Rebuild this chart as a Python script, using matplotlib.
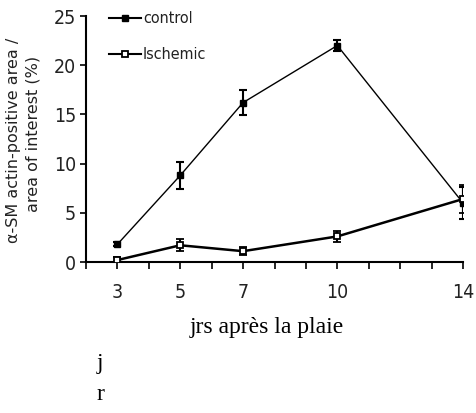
import numpy as np
import matplotlib
matplotlib.use('Agg')
import matplotlib.pyplot as plt
from matplotlib.ticker import MultipleLocator, FixedLocator
from matplotlib.lines import Line2D

# donnees
jours = [3, 5, 7, 10, 14]
control = [1.8, 8.8, 16.2, 22.0, 6.0]
control_err = [0.2, 1.4, 1.3, 0.6, 1.6]
ischemic = [0.2, 1.7, 1.1, 2.6, 6.4]
ischemic_err = [0.3, 0.6, 0.4, 0.6, 1.4]
xticks_lab = [3, 5, 7, 10, 14]

narrow = ['DejaVu Sans']
serif = ['Liberation Serif', 'DejaVu Serif']
gris = '#222222'

fig = plt.figure(figsize=(4.76, 4.13), dpi=100)
ax = fig.add_axes([86/476, 1-262/413, 377/476, 246/413])

ax.errorbar(jours, control, yerr=control_err, color='black', lw=1.0,
            marker='s', ms=5, mfc='black', mec='black',
            elinewidth=1.5, capsize=3, capthick=1.5, zorder=3)
ax.errorbar(jours, ischemic, yerr=ischemic_err, color='black', lw=1.8,
            marker='s', ms=5, mfc='white', mec='black', mew=1.3,
            elinewidth=1.5, capsize=3, capthick=1.5, zorder=4)

ax.set_xlim(2, 14)
ax.set_ylim(0, 25)
for s in ['top', 'right']:
    ax.spines[s].set_visible(False)
ax.spines['left'].set_linewidth(1.5)
ax.spines['bottom'].set_linewidth(1.5)

ax.xaxis.set_major_locator(FixedLocator(xticks_lab))
ax.xaxis.set_minor_locator(MultipleLocator(1))
ax.yaxis.set_major_locator(MultipleLocator(5))
ax.tick_params(axis='x', which='both', direction='out', length=5, width=1.2, pad=10)
ax.tick_params(axis='y', direction='out', length=4, width=1.2, pad=3)
for lab in ax.get_xticklabels() + ax.get_yticklabels():
    lab.set_family(narrow)
    lab.set_stretch('condensed')
    lab.set_fontsize(14)
    lab.set_color(gris)

h1 = Line2D([], [], color='black', lw=1.5, marker='s', ms=5, mfc='black', mec='black')
h2 = Line2D([], [], color='black', lw=1.5, marker='s', ms=5, mfc='white', mec='black', mew=1.3)
leg = ax.legend([h1, h2], ['control', 'Ischemic'], loc='upper left',
                bbox_to_anchor=(0.022, 1.077), frameon=False,
                handlelength=2.0, handletextpad=0.15, labelspacing=1.3,
                prop={'family': narrow, 'size': 11.5, 'stretch': 'condensed'})
for t in leg.get_texts():
    t.set_color(gris)

# titre axe y sur deux lignes
fig.text(14/476, 1-140/413, u'\u03b1-SM actin-positive area /', rotation=90,
         ha='center', va='center', family=narrow, fontsize=11.5, color=gris)
fig.text(33/476, 1-134/413, 'area of interest (%)', rotation=90,
         ha='center', va='center', family=narrow, fontsize=11.5, color=gris)

fig.text(267/476, 1-327/413, u'jrs apr\u00e8s la plaie', ha='center', va='center',
         family=serif, fontsize=17)
fig.text(100/476, 1-364/413, 'j', ha='center', va='center', family=serif, fontsize=17)
fig.text(100/476, 1-395/413, 'r', ha='center', va='center', family=serif, fontsize=17)

fig.savefig('out.png', dpi=100)
